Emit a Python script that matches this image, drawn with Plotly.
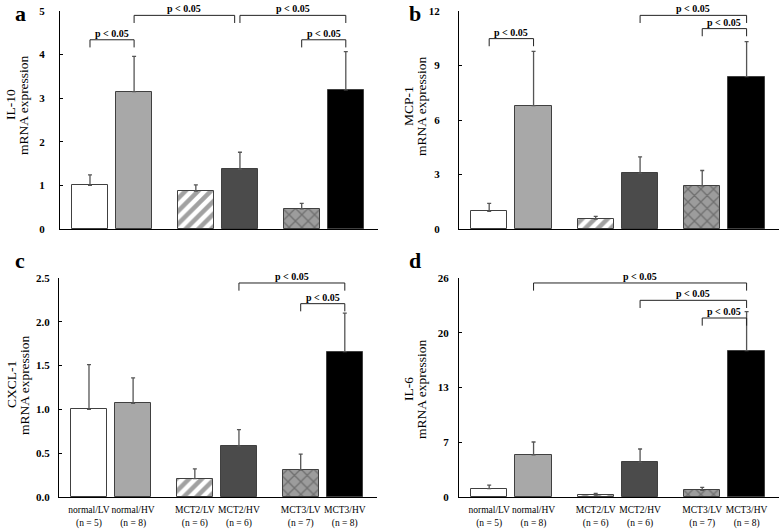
import plotly.graph_objects as go
from plotly.subplots import make_subplots

# groups and sample sizes
groups = ["normal/LV", "normal/HV", "MCT2/LV", "MCT2/HV", "MCT3/LV", "MCT3/HV"]
n_sizes = [5, 8, 6, 6, 7, 8]

# mean and mean+SE for each panel
il10_mean = [1.00, 3.15, 0.87, 1.37, 0.46, 3.19]
il10_upper = [1.24, 3.96, 1.01, 1.76, 0.59, 4.07]
mcp1_mean = [0.97, 6.79, 0.55, 3.06, 2.38, 8.39]
mcp1_upper = [1.41, 9.78, 0.70, 3.97, 3.22, 10.31]
cxcl1_mean = [1.00, 1.07, 0.21, 0.58, 0.31, 1.66]
cxcl1_upper = [1.51, 1.36, 0.32, 0.77, 0.49, 2.10]
il6_mean = [0.99, 4.99, 0.24, 4.12, 0.79, 17.37]
il6_upper = [1.42, 6.53, 0.44, 5.70, 1.15, 22.00]

# y ticks
il10_ticks = [0, 1, 2, 3, 4, 5]
mcp1_ticks = [0, 3, 6, 9, 12]
cxcl1_ticks = [0, 0.5, 1.0, 1.5, 2.0, 2.5]
il6_ticks = [0, 6.5, 13, 19.5, 26]
il6_ticktext = ["0", "7", "13", "20", "26"]

# significance brackets: (bar from, bar to, height)
il10_sig = [(0, 1, 4.34), (1, 3, 4.90), (3, 5, 4.90), (4, 5, 4.34)]
mcp1_sig = [(0, 1, 10.48), (3, 5, 11.76), (4, 5, 11.03)]
cxcl1_sig = [(3, 5, 2.443), (4, 5, 2.207)]
il6_sig = [(1, 5, 25.41), (3, 5, 23.35), (4, 5, 21.25)]

FONT = "Liberation Serif"
W, H = 784, 532


def px_x(v):
    return v / W


def px_y(v):
    return 1 - v / H


# bar positions: two bars per group, wider gap between groups
xpos = [(i // 2) * 2.4 + (i % 2) for i in range(len(groups))]
fills = ["white", "#a8a8a8", "white", "#4b4b4b", "#9c9c9c", "black"]
shapes_pat = ["", "", "/", "", "x", ""]
fg_pat = ["black", "black", "black", "black", "#2a2a2a", "black"]
sol_pat = [0.3, 0.3, 0.5, 0.3, 0.28, 0.3]

panels = [
    dict(mean=il10_mean, up=il10_upper, ticks=il10_ticks, tt=None, sig=il10_sig,
         name="IL-10", letter="a", px=(60, 378), py=(11, 229),
         tx=(10, 23), ty=105, gap=12),
    dict(mean=mcp1_mean, up=mcp1_upper, ticks=mcp1_ticks, tt=None, sig=mcp1_sig,
         name="MCP-1", letter="b", px=(459, 779), py=(11, 229),
         tx=(408, 421), ty=106, gap=16),
    dict(mean=cxcl1_mean, up=cxcl1_upper, ticks=cxcl1_ticks,
         tt=["%.1f" % t for t in cxcl1_ticks], sig=cxcl1_sig,
         name="CXCL-1", letter="c", px=(59, 377), py=(278, 497),
         tx=(11, 24), ty=385, gap=6),
    dict(mean=il6_mean, up=il6_upper, ticks=il6_ticks, tt=il6_ticktext, sig=il6_sig,
         name="IL-6", letter="d", px=(459, 779), py=(278, 497),
         tx=(408, 421), ty=389, gap=7),
]

fig = make_subplots(rows=2, cols=2)
xlabels = ["%s<br>(n = %d)" % (g, n) for g, n in zip(groups, n_sizes)]

for k, p in enumerate(panels):
    row, col = k // 2 + 1, k % 2 + 1
    err = [u - m for m, u in zip(p["mean"], p["up"])]
    fig.add_trace(go.Bar(
        x=xpos, y=p["mean"], width=0.82,
        marker=dict(color=fills, line=dict(color="#404040", width=1),
                    pattern=dict(shape=shapes_pat, fgcolor=fg_pat, size=9, solidity=sol_pat)),
        error_y=dict(type="data", symmetric=False, array=err, arrayminus=[0] * 6,
                     color="#555555", thickness=1.3, width=2),
        showlegend=False, hoverinfo="skip"),
        row=row, col=col)

    ymax = p["ticks"][-1]
    axn = "" if k == 0 else str(k + 1)
    xa, ya = "x" + axn, "y" + axn
    fig.update_layout(**{
        "xaxis" + axn: dict(
            domain=[px_x(p["px"][0]), px_x(p["px"][1])], range=[-0.68, 6.53],
            showline=True, linecolor="black", linewidth=1, ticks="",
            tickvals=xpos, ticktext=xlabels, showticklabels=row == 2,
            tickangle=0, showgrid=False, zeroline=False, automargin=False,
            ticklabelstandoff=4,
            tickfont=dict(family=FONT, size=9.5, color="black")),
        "yaxis" + axn: dict(
            domain=[px_y(p["py"][1]), px_y(p["py"][0])], range=[0, ymax],
            showline=True, linecolor="black", linewidth=1,
            ticks="inside", ticklen=3, tickcolor="black",
            tickvals=p["ticks"], ticktext=p["tt"] if p["tt"] else [str(t) for t in p["ticks"]],
            showgrid=False, zeroline=False, ticklabelstandoff=p["gap"], automargin=False,
            tickfont=dict(family=FONT, size=11, color="black", weight="bold")),
    })

    drop = ymax * 0.035
    for a, b, h in p["sig"]:
        x0, x1 = xpos[a], xpos[b]
        if p["letter"] == "a" and a == 1 and b == 3:
            x1 -= 0.12
        fig.add_shape(type="path", xref=xa, yref=ya,
                      path="M %f %f L %f %f L %f %f L %f %f" % (x0, h - drop, x0, h, x1, h, x1, h - drop),
                      line=dict(color="#222222", width=1))
        fig.add_annotation(x=(x0 + x1) / 2, y=h, xref=xa, yref=ya, text="p < 0.05",
                           showarrow=False, yanchor="bottom", yshift=-1,
                           font=dict(family=FONT, size=10, color="black", weight="bold"))

    # two-line y title, drawn as two rotated texts so the lines sit close together
    for txt, tx in zip([p["name"], "mRNA expression"], p["tx"]):
        fig.add_annotation(x=px_x(tx), y=px_y(p["ty"]), xref="paper", yref="paper",
                           xanchor="center", yanchor="middle", text=txt, textangle=-90,
                           showarrow=False, font=dict(family=FONT, size=13.5, color="black"))
    lx = 20 if col == 1 else 415
    ly = 13 if row == 1 else 260
    fig.add_annotation(x=px_x(lx), y=px_y(ly), xref="paper", yref="paper",
                       xanchor="center", yanchor="middle",
                       text=p["letter"], showarrow=False,
                       font=dict(family=FONT, size=22, color="black", weight="bold"))

fig.update_layout(width=W, height=H, margin=dict(l=0, r=0, t=0, b=0),
                  plot_bgcolor="white", paper_bgcolor="white", bargap=0)

# drop the default 8px page margin so the figure fills the window
fig.write_html("out.html", config={"displayModeBar": False},
               post_script="document.body.style.margin = '0';")
